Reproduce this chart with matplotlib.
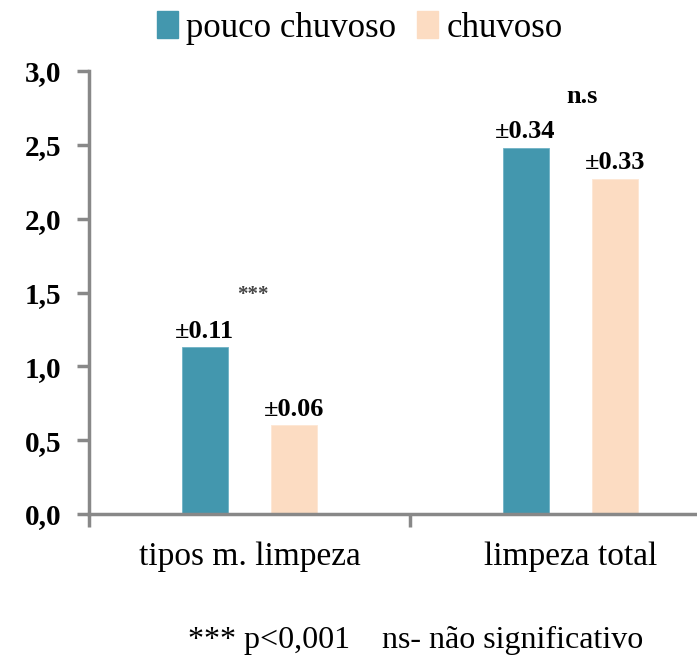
import numpy as np
import matplotlib.pyplot as plt
from matplotlib.patches import Patch

# data
categorias = ['tipos m. limpeza', 'limpeza total']
series = ['pouco chuvoso', 'chuvoso']
pouco_chuvoso = [1.13, 2.48]
chuvoso = [0.60, 2.27]
erro_pouco = ['±0.11', '±0.34']
erro_chuvoso = ['±0.06', '±0.33']
signif = ['***', 'n.s']
signif_y = [1.48, 2.83]
nota = '*** p<0,001    ns- não significativo'

cores = ['#4397ae', '#fcdcc2']
serif = ['Liberation Serif', 'DejaVu Serif']

fig = plt.figure(figsize=(6.97, 6.64), dpi=100)
ax = fig.add_axes([89 / 697, 150 / 664, 642 / 697, 443 / 664])

x = np.arange(len(categorias))
w = 0.143
off = 0.14
b1 = ax.bar(x - off, pouco_chuvoso, w, color=cores[0], edgecolor='#6fb3c6', linewidth=0.6)
b2 = ax.bar(x + off, chuvoso, w, color=cores[1], edgecolor='#fde6d3', linewidth=0.6)

for rect, lab in zip(b1, erro_pouco):
    ax.text(rect.get_x() + rect.get_width() / 2, rect.get_height() + 0.03, lab,
            ha='center', va='bottom', fontsize=19, fontweight='bold', family=serif)
for rect, lab in zip(b2, erro_chuvoso):
    ax.text(rect.get_x() + rect.get_width() / 2, rect.get_height() + 0.03, lab,
            ha='center', va='bottom', fontsize=19, fontweight='bold', family=serif)

ax.text(x[0] + 0.01, signif_y[0], signif[0], ha='center', va='center',
        fontsize=15, fontweight='bold', family=serif, color='#444444')
ax.text(x[1] + 0.035, signif_y[1], signif[1], ha='center', va='center',
        fontsize=19, fontweight='bold', family=serif)

ax.set_xlim(-0.5, 1.5)
ax.set_ylim(0, 3.0)
ax.set_yticks(np.arange(0, 3.01, 0.5))
ax.set_yticklabels([f'{v:.1f}'.replace('.', ',') for v in np.arange(0, 3.01, 0.5)],
                   fontsize=21, fontweight='bold', family=serif)
ax.set_xticks(x)
ax.set_xticklabels(categorias, fontsize=24, family=serif)
ax.set_xticks([-0.5, 0.5, 1.5], minor=True)
ax.tick_params(axis='x', which='major', length=0, pad=20)
ax.tick_params(axis='x', which='minor', length=9, width=2.5, color='#888888', direction='out')
ax.tick_params(axis='y', length=9, width=2.5, color='#888888', pad=11)

for s in ['top', 'right']:
    ax.spines[s].set_visible(False)
for s in ['left', 'bottom']:
    ax.spines[s].set_color('#888888')
    ax.spines[s].set_linewidth(2.5)

handles = [Patch(color=c) for c in cores]
fig.legend(handles, series, loc='center', bbox_to_anchor=(360 / 697, 1 - 28 / 664),
           ncol=2, frameon=False, prop={'family': serif, 'size': 25},
           handlelength=0.6, handleheight=0.8, handletextpad=0.25, columnspacing=0.6)

fig.text(416 / 697, 1 - 640 / 664, nota, ha='center', va='center',
         fontsize=23, family=serif)

fig.savefig('out.png', dpi=100)
